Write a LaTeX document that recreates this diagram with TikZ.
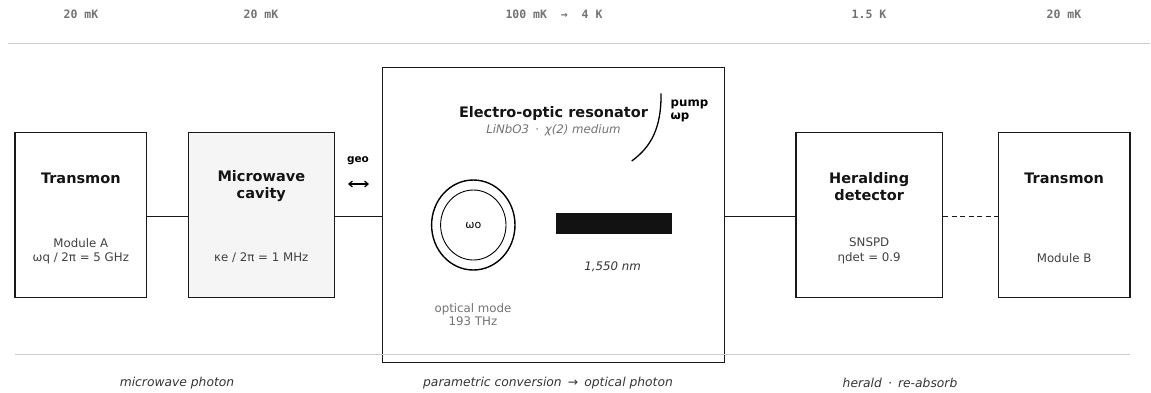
\documentclass[tikz,border=0pt]{standalone}
\usepackage{fontspec}
\usetikzlibrary{shapes.geometric,arrows.meta}
\setmainfont{DejaVu Sans}
\setmonofont{DejaVu Sans Mono}
\begin{document}
\begin{tikzpicture}[x=1pt,y=-1pt,
  box/.style={draw=black!90,line width=1.4pt,inner sep=0pt},
  ttl/.style={font=\fontsize{14.5}{17}\selectfont\bfseries,text=black!92,align=center,inner sep=0pt},
  sub/.style={font=\fontsize{11.8}{14.5}\selectfont,text=black!75,align=center,inner sep=0pt},
  temp/.style={font=\fontsize{11.5}{14}\selectfont\ttfamily\bfseries,text=black!55,inner sep=0pt},
  stage/.style={font=\fontsize{12.3}{14}\selectfont\itshape,text=black!80,inner sep=0pt},
  conn/.style={line width=1.3pt,draw=black!90},
  sep/.style={draw=black!20,line width=1pt}
]
\useasboundingbox (0,0) rectangle (1151,392);
% temperature labels
\node[temp] (t1) at (81,14) {20 mK};
\node[temp] (t2) at (261,14) {20 mK};
\node[temp] (t3) at (554,14) {100 mK\ \ →\ \ 4 K};
\node[temp] (t4) at (869,14) {1.5 K};
\node[temp] (t5) at (1064,14) {20 mK};
\draw[sep] (8,43) -- (1150,43);
% boxes
\node[box,minimum width=131.5pt,minimum height=165.5pt] (tA) at (80.8,215) {};
\node[box,fill=black!4,minimum width=146pt,minimum height=165.5pt] (mc) at (261.3,215) {};
\node[box,minimum width=341.5pt,minimum height=295pt] (eo) at (553.5,214.8) {};
\node[box,minimum width=146.3pt,minimum height=165.5pt] (hd) at (869.2,215) {};
\node[box,minimum width=131.7pt,minimum height=165.5pt] (tB) at (1064.2,215) {};
% box texts
\node[ttl] (tAt) at (80.8,178) {Transmon};
\node[sub] (tAs) at (80.8,251) {Module A\\ωq / 2π = 5 GHz};
\node[ttl] (mct) at (261.3,186.5) {Microwave\\cavity};
\node[sub] (mcs) at (261.3,258) {κe / 2π = 1 MHz};
\node[ttl] (hdt) at (869.2,186.5) {Heralding\\detector};
\node[sub] (hds) at (869.2,251) {SNSPD\\ηdet = 0.9};
\node[ttl] (tBt) at (1064.2,178) {Transmon};
\node[sub] (tBs) at (1064.2,258) {Module B};
% EO content
\node[ttl] (eot) at (553.5,113) {Electro-optic resonator};
\node[font=\fontsize{11.8}{14}\selectfont\itshape,text=black!55,inner sep=0pt] (eos) at (553.5,130) {LiNbO3\enspace·\enspace χ(2) medium};
\coordinate (pa) at (661,93.3);
\coordinate (pb) at (631.7,161);
\draw[line width=1.3pt] (pa) .. controls (661.5,128) and (651,147) .. (pb);
\node[font=\fontsize{11.8}{13.5}\selectfont\bfseries,align=left,anchor=west,inner sep=0pt] (pump) at (670.5,111) {pump\\ωp};
\node[draw,line width=1.4pt,ellipse,minimum width=83.4pt,minimum height=90pt,inner sep=0pt] (ro) at (473.3,225) {};
\node[draw,line width=0.9pt,ellipse,minimum width=65.4pt,minimum height=70pt,inner sep=0pt,font=\fontsize{11}{13}\selectfont] (ri) at (473.3,225) {ωo};
\node[fill=black!93,minimum width=116.6pt,minimum height=21pt,inner sep=0pt] (bar) at (614,223.8) {};
\node[font=\fontsize{11.8}{14}\selectfont\itshape,text=black!80,inner sep=0pt] (nm) at (612.7,266.7) {1,550 nm};
\node[font=\fontsize{11.8}{13.5}\selectfont,text=black!55,align=center,inner sep=0pt] (om) at (473,314.5) {optical mode\\193 THz};
% geo
\node[font=\fontsize{10.5}{12}\selectfont\bfseries,inner sep=0pt] (geo) at (358,161) {geo};
\coordinate (gl) at (348,184);
\coordinate (gr) at (369,184);
\draw[line width=1.2pt,{Straight Barb[length=3.5pt,width=6pt]}-{Straight Barb[length=3.5pt,width=6pt]}] (gl) -- (gr);
% connectors
\draw[conn] (tA.east |- 0,216.5) -- (mc.west |- 0,216.5);
\draw[conn] (mc.east |- 0,216.5) -- (eo.west |- 0,216.5);
\draw[conn] (eo.east |- 0,216.5) -- (hd.west |- 0,216.5);
\draw[conn,dash pattern=on 5pt off 3.5pt] (hd.east |- 0,216.5) -- (tB.west |- 0,216.5);
% bottom
\draw[sep] (15,354.3) -- (1130,354.3);
\node[stage] (s1) at (177,383) {microwave photon};
\node[stage] (s2) at (548,383) {parametric conversion\enspace→\enspace optical photon};
\node[stage] (s3) at (900,383) {herald\enspace·\enspace re-absorb};
\end{tikzpicture}
\end{document}
